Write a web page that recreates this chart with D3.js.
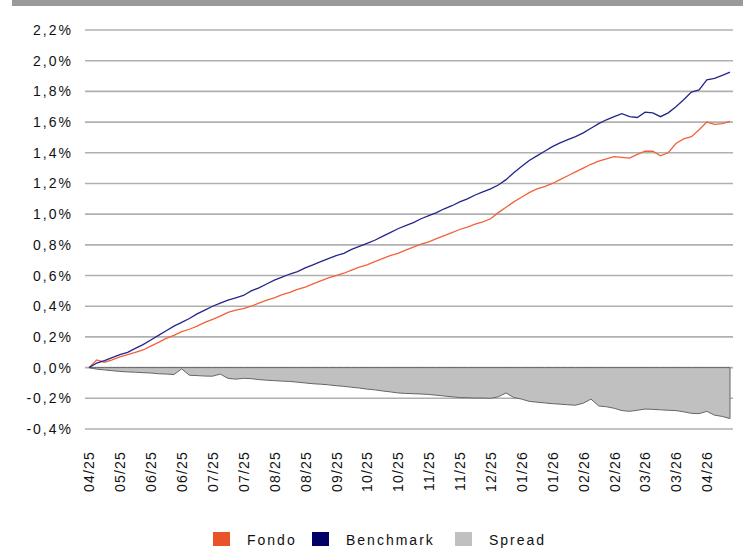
<!DOCTYPE html>
<html>
<head>
<meta charset="utf-8">
<script src="https://cdn.jsdelivr.net/npm/d3@7"></script>
<style>
  body { margin: 0; background: #fff; }
  text { font-family: "Liberation Sans", Arial, sans-serif; font-size: 14px; fill: #111; letter-spacing: 2px; }
</style>
</head>
<body>
<div id="chart"></div>
<script>
const xLabels = ['04/25', '05/25', '06/25', '06/25', '07/25', '07/25', '08/25', '08/25', '09/25', '10/25', '10/25',
  '11/25', '11/25', '12/25', '01/26', '01/26', '02/26', '02/26', '03/26', '03/26', '04/26'];
const yTicks = [-0.4, -0.2, 0, 0.2, 0.4, 0.6, 0.8, 1.0, 1.2, 1.4, 1.6, 1.8, 2.0, 2.2];

// values in %, one point every quarter of a label interval
const fondo = [0.00, 0.05, 0.035, 0.05, 0.07, 0.085, 0.10, 0.115, 0.14, 0.165, 0.19, 0.21, 0.235, 0.25, 0.27, 0.295,
  0.315, 0.335, 0.36, 0.375, 0.385, 0.40, 0.42, 0.44, 0.455, 0.475, 0.49, 0.51, 0.525, 0.545, 0.565, 0.585,
  0.60, 0.615, 0.635, 0.655, 0.67, 0.69, 0.71, 0.73, 0.745, 0.765, 0.785, 0.805, 0.82, 0.84, 0.86, 0.88,
  0.90, 0.915, 0.935, 0.95, 0.97, 1.01, 1.045, 1.08, 1.11, 1.14, 1.165, 1.18, 1.20, 1.225, 1.25, 1.275,
  1.30, 1.325, 1.345, 1.36, 1.375, 1.37, 1.365, 1.39, 1.41, 1.41, 1.38, 1.40, 1.46, 1.49, 1.505, 1.55,
  1.60, 1.585, 1.59, 1.605];
const benchmark = [0.00, 0.03, 0.045, 0.065, 0.085, 0.10, 0.125, 0.15, 0.18, 0.21, 0.24, 0.27, 0.295, 0.32, 0.35, 0.375,
  0.40, 0.42, 0.44, 0.455, 0.47, 0.50, 0.52, 0.545, 0.57, 0.59, 0.61, 0.625, 0.65, 0.67, 0.69, 0.71,
  0.73, 0.745, 0.77, 0.79, 0.81, 0.83, 0.855, 0.88, 0.905, 0.925, 0.945, 0.97, 0.99, 1.01, 1.035, 1.055,
  1.08, 1.10, 1.125, 1.145, 1.165, 1.19, 1.225, 1.27, 1.31, 1.35, 1.38, 1.41, 1.44, 1.465, 1.485, 1.505,
  1.53, 1.56, 1.59, 1.615, 1.635, 1.655, 1.635, 1.63, 1.665, 1.66, 1.635, 1.66, 1.70, 1.745, 1.795, 1.81,
  1.875, 1.885, 1.905, 1.925];
const spread = [0.00, -0.01, -0.015, -0.02, -0.025, -0.028, -0.03, -0.033, -0.035, -0.04, -0.042, -0.045, -0.008, -0.05, -0.052, -0.055,
  -0.056, -0.042, -0.07, -0.075, -0.07, -0.072, -0.078, -0.082, -0.085, -0.088, -0.09, -0.095, -0.10, -0.105, -0.108, -0.112,
  -0.118, -0.122, -0.128, -0.133, -0.14, -0.145, -0.152, -0.158, -0.165, -0.168, -0.17, -0.172, -0.175, -0.18, -0.185, -0.19,
  -0.195, -0.196, -0.198, -0.198, -0.20, -0.19, -0.165, -0.195, -0.205, -0.22, -0.225, -0.23, -0.235, -0.238, -0.242, -0.245,
  -0.232, -0.205, -0.25, -0.255, -0.265, -0.28, -0.285, -0.278, -0.27, -0.272, -0.275, -0.278, -0.28, -0.288, -0.298, -0.30,
  -0.285, -0.31, -0.318, -0.332];

const series = [
  {name: 'Fondo', color: '#e8532a', line: '#f2623a'},
  {name: 'Benchmark', color: '#000066', line: '#25258c'},
  {name: 'Spread', color: '#c0c0c0', line: '#666666'}
];

const width = 743;
const height = 548;
const svg = d3.select('#chart')
  .append('svg')
    .attr('width', width)
    .attr('height', height);

// grey band at the top
svg.append('rect')
  .attr('x', 12).attr('y', 0)
  .attr('width', width - 12).attr('height', 6)
  .attr('fill', '#9a9a9a');

const x = d3.scaleLinear().domain([0, fondo.length - 1]).range([89, 730]);
const y = d3.scaleLinear().domain([-0.4, 2.2]).range([429, 30]);

// gridlines
svg.append('g')
  .selectAll('line')
  .data(yTicks)
  .join('line')
    .attr('x1', 85).attr('x2', 733)
    .attr('y1', d => y(d)).attr('y2', d => y(d))
    .attr('stroke', '#b0b0b0')
    .attr('stroke-width', 1.6);

const fmt = v => v.toFixed(1).replace('.', ',') + '%';
const yAxis = svg.append('g')
  .attr('transform', 'translate(73,0)')
  .call(d3.axisLeft(y).tickValues(yTicks).tickFormat(fmt).tickSize(0).tickPadding(0));
yAxis.select('.domain').remove();
yAxis.selectAll('text')
  .attr('fill', '#111')
  .style('font-size', '14px')
  .style('letter-spacing', '2px')
  .style('font-family', '"Liberation Sans", Arial, sans-serif');

const xAxis = svg.append('g')
  .attr('transform', 'translate(0,451)')
  .call(d3.axisBottom(x).tickValues(d3.range(0, fondo.length, 4)).tickFormat((d, i) => xLabels[i]).tickSize(0));
xAxis.select('.domain').remove();
xAxis.selectAll('text')
  .attr('fill', '#111')
  .attr('transform', 'rotate(-90)')
  .attr('text-anchor', 'end')
  .attr('x', 0).attr('y', 0).attr('dy', '0.35em')
  .style('font-size', '14px')
  .style('letter-spacing', '1.2px')
  .style('font-family', '"Liberation Sans", Arial, sans-serif');

// spread area
const area = d3.area().x((d, i) => x(i)).y0(y(0)).y1(d => y(d));
svg.append('path')
  .datum(spread)
  .attr('d', area)
  .attr('fill', series[2].color)
  .attr('stroke', series[2].line)
  .attr('stroke-width', 1);

const line = d3.line().x((d, i) => x(i)).y(d => y(d));
[[fondo, series[0]], [benchmark, series[1]]].forEach(([vals, s]) => {
  svg.append('path')
    .datum(vals)
    .attr('d', line)
    .attr('fill', 'none')
    .attr('stroke', s.line)
    .attr('stroke-width', 1.3);
});

// legend
const legendX = [213, 312, 455];
const legend = svg.append('g')
  .selectAll('g')
  .data(series)
  .join('g')
    .attr('transform', (d, i) => `translate(${legendX[i]},532)`);
legend.append('rect')
  .attr('width', 17).attr('height', 14)
  .attr('fill', d => d.color);
legend.append('text')
  .attr('x', 34).attr('y', 13)
  .text(d => d.name);
</script>
</body>
</html>
